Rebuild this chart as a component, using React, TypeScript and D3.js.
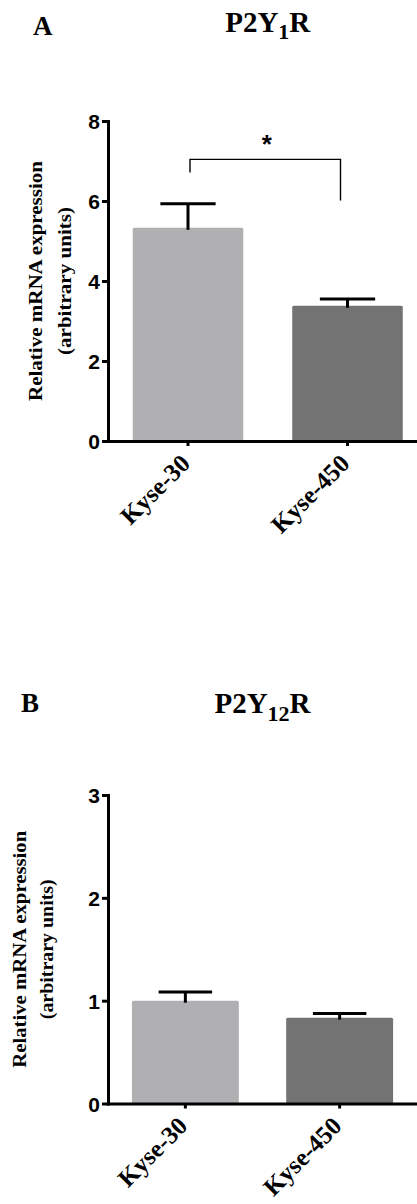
import { useEffect, useRef } from 'react';
import * as d3 from 'd3';

const categories = ['Kyse-30', 'Kyse-450'];
const barColors = ['#b0b0b2', '#737373'];
const yLabelLines = ['Relative mRNA expression', '(arbitrary units)'];

// panel A: P2Y1R
const p2y1Means = [5.33, 3.38];
const p2y1Sem = [0.6, 0.17];
const p2y1Ticks = [0, 2, 4, 6, 8];
const p2y1Sig = { label: '*', top: 7.04, left: 6.71, right: 6.01 };

// panel B: P2Y12R
const p2y12Means = [1.0, 0.835];
const p2y12Sem = [0.085, 0.04];
const p2y12Ticks = [0, 1, 2, 3];

const SERIF = '"Liberation Serif", "Times New Roman", serif';
const SANS = '"Liberation Sans", Arial, sans-serif';

interface Layout {
  axisX: number;
  yBottom: number;
  yTop: number;
  xEnd: number;
  letterX: number;
  letterY: number;
  titleY: number;
  labelX: number[];
  labelLen: number[];
}

interface PanelProps {
  letter: string;
  title: [string, string, string];
  means: number[];
  sem: number[];
  ticks: number[];
  sig?: { label: string; top: number; left: number; right: number };
  layout: Layout;
}

function Panel({ letter, title, means, sem, ticks, sig, layout }: PanelProps) {
  const gRef = useRef<SVGGElement>(null);

  useEffect(() => {
    if (!gRef.current) return;
    const g = d3.select(gRef.current);
    g.selectAll('*').remove();

    const { axisX, yBottom, yTop, xEnd } = layout;
    const y = d3
      .scaleLinear()
      .domain([0, ticks[ticks.length - 1]])
      .range([yBottom, yTop]);
    const x = d3
      .scaleBand()
      .domain(categories)
      .range([axisX, xEnd])
      .paddingInner(0.307)
      .paddingOuter(0.155);
    const bw = x.bandwidth();
    const cx = (c: string) => (x(c) ?? 0) + bw / 2;

    const rows = categories.map((c, i) => ({ c, m: means[i], e: sem[i], color: barColors[i] }));

    g.selectAll('rect.bar')
      .data(rows)
      .join('rect')
      .attr('class', 'bar')
      .attr('x', (d) => x(d.c) ?? 0)
      .attr('width', bw)
      .attr('y', (d) => y(d.m))
      .attr('height', (d) => y(0) - y(d.m))
      .attr('rx', 1.5)
      .attr('fill', (d) => d.color);

    // upper error bars only
    const eb = g
      .selectAll('g.err')
      .data(rows)
      .join('g')
      .attr('class', 'err')
      .attr('stroke', '#000')
      .attr('stroke-width', 3);
    eb.append('line')
      .attr('x1', (d) => cx(d.c))
      .attr('x2', (d) => cx(d.c))
      .attr('y1', (d) => y(d.m) + 2)
      .attr('y2', (d) => y(d.m + d.e));
    eb.append('line')
      .attr('x1', (d) => cx(d.c) - bw / 4)
      .attr('x2', (d) => cx(d.c) + bw / 4)
      .attr('y1', (d) => y(d.m + d.e))
      .attr('y2', (d) => y(d.m + d.e));

    const ya = g
      .append('g')
      .attr('transform', `translate(${axisX},0)`)
      .call(
        d3
          .axisLeft(y)
          .tickValues(ticks)
          .tickFormat(d3.format('d'))
          .tickSize(6)
          .tickSizeOuter(0)
          .tickPadding(2)
      );
    ya.select('.domain').attr('stroke-width', 3).attr('stroke-linecap', 'square');
    ya.selectAll('.tick line').attr('stroke-width', 3);
    ya.selectAll('.tick text')
      .attr('font-family', SANS)
      .attr('font-weight', 'bold')
      .attr('font-size', 21)
      .attr('fill', '#000')
      .attr('dy', '0.36em');

    const xa = g
      .append('g')
      .attr('transform', `translate(0,${yBottom})`)
      .call(d3.axisBottom(x).tickSize(5).tickSizeOuter(0));
    xa.select('.domain').attr('stroke-width', 3).attr('stroke-linecap', 'square');
    xa.selectAll('.tick line').attr('stroke-width', 3);
    xa.selectAll('.tick text')
      .attr('y', 0)
      .attr('dy', 0)
      .attr('text-anchor', 'end')
      .attr('transform', 'translate(3.5,24) rotate(-45)')
      .attr('font-family', SERIF)
      .attr('font-weight', 'bold')
      .attr('font-size', 25)
      .attr('fill', '#000');

    if (sig) {
      const xl = cx(categories[0]) + 2;
      const xr = cx(categories[1]) - 7;
      g.append('path')
        .attr('d', `M${xl},${y(sig.left)}V${y(sig.top)}H${xr}V${y(sig.right)}`)
        .attr('fill', 'none')
        .attr('stroke', '#000')
        .attr('stroke-width', 1.4);
      g.append('text')
        .attr('x', (xl + xr) / 2 + 1.5)
        .attr('y', y(sig.top) - 6.5)
        .attr('text-anchor', 'middle')
        .attr('font-family', SANS)
        .attr('font-weight', 'bold')
        .attr('font-size', 26)
        .text(sig.label);
    }

    // rotated y label, two lines
    const mid = (yTop + yBottom) / 2;
    yLabelLines.forEach((t, i) => {
      g.append('text')
        .attr('transform', `translate(${layout.labelX[i]},${mid}) rotate(-90)`)
        .attr('text-anchor', 'middle')
        .attr('font-family', SERIF)
        .attr('font-weight', 'bold')
        .attr('font-size', 18)
        .attr('textLength', layout.labelLen[i])
        .attr('lengthAdjust', 'spacingAndGlyphs')
        .text(t);
    });

    // title with subscript
    const tt = g
      .append('text')
      .attr('x', (cx(categories[0]) + cx(categories[1])) / 2)
      .attr('y', layout.titleY)
      .attr('text-anchor', 'middle')
      .attr('font-family', SERIF)
      .attr('font-weight', 'bold')
      .attr('font-size', 29);
    tt.append('tspan').text(title[0]);
    tt.append('tspan').attr('font-size', 22).attr('dy', 7.6).text(title[1]);
    tt.append('tspan').attr('dy', -7.6).text(title[2]);

    g.append('text')
      .attr('x', layout.letterX)
      .attr('y', layout.letterY)
      .attr('font-family', SERIF)
      .attr('font-weight', 'bold')
      .attr('font-size', 27)
      .text(letter);
  }, [letter, title, means, sem, ticks, sig, layout]);

  return <g ref={gRef} />;
}

const layoutA: Layout = {
  axisX: 108,
  yBottom: 441,
  yTop: 121,
  xEnd: 427.5,
  letterX: 33,
  letterY: 35,
  titleY: 31.7,
  labelX: [41.5, 71],
  labelLen: [240, 148],
};

const layoutB: Layout = {
  axisX: 108,
  yBottom: 1103.5,
  yTop: 795,
  xEnd: 417,
  letterX: 21,
  letterY: 711.7,
  titleY: 713.3,
  labelX: [25.5, 52.7],
  labelLen: [237, 140],
};

export default function App() {
  return (
    <svg
      width={417}
      height={1204}
      style={{ position: 'absolute', left: 0, top: 0, background: '#fff' }}
    >
      <Panel
        letter="A"
        title={['P2Y', '1', 'R']}
        means={p2y1Means}
        sem={p2y1Sem}
        ticks={p2y1Ticks}
        sig={p2y1Sig}
        layout={layoutA}
      />
      <Panel
        letter="B"
        title={['P2Y', '12', 'R']}
        means={p2y12Means}
        sem={p2y12Sem}
        ticks={p2y12Ticks}
        layout={layoutB}
      />
    </svg>
  );
}
